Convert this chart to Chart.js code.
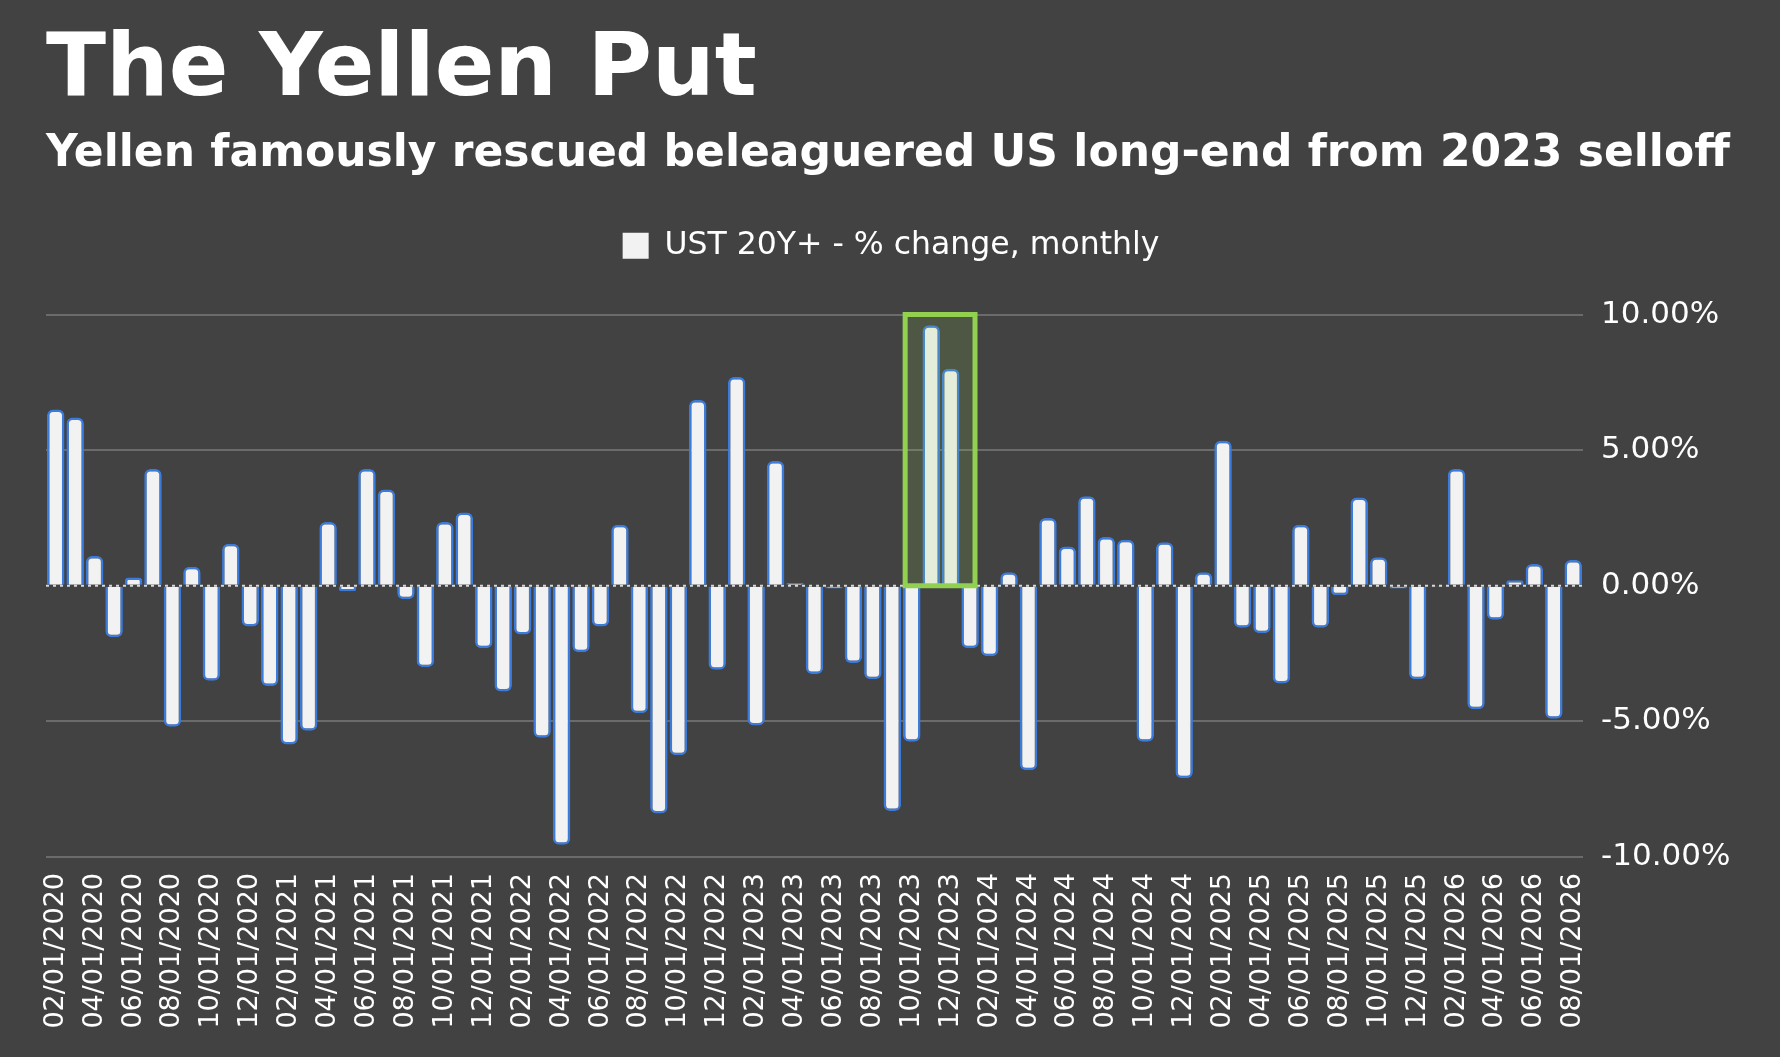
<!DOCTYPE html>
<html>
<head>
<meta charset="utf-8">
<title>The Yellen Put</title>
<script src="https://cdn.jsdelivr.net/npm/chart.js@4.4.1/dist/chart.umd.min.js"></script>
<style>
	html, body { margin: 0; padding: 0; background: #424242; }
	#wrap { position: relative; width: 1780px; height: 1057px; }
</style>
</head>
<body>
<div id="wrap"><canvas id="yellenChart"></canvas></div>
<script>
// monthly labels, 02/2020 .. 08/2026
const months = [
	'02/01/2020', '03/01/2020', '04/01/2020', '05/01/2020', '06/01/2020', '07/01/2020',
	'08/01/2020', '09/01/2020', '10/01/2020', '11/01/2020', '12/01/2020',
	'01/01/2021', '02/01/2021', '03/01/2021', '04/01/2021', '05/01/2021', '06/01/2021',
	'07/01/2021', '08/01/2021', '09/01/2021', '10/01/2021', '11/01/2021', '12/01/2021',
	'01/01/2022', '02/01/2022', '03/01/2022', '04/01/2022', '05/01/2022', '06/01/2022',
	'07/01/2022', '08/01/2022', '09/01/2022', '10/01/2022', '11/01/2022', '12/01/2022',
	'01/01/2023', '02/01/2023', '03/01/2023', '04/01/2023', '05/01/2023', '06/01/2023',
	'07/01/2023', '08/01/2023', '09/01/2023', '10/01/2023', '11/01/2023', '12/01/2023',
	'01/01/2024', '02/01/2024', '03/01/2024', '04/01/2024', '05/01/2024', '06/01/2024',
	'07/01/2024', '08/01/2024', '09/01/2024', '10/01/2024', '11/01/2024', '12/01/2024',
	'01/01/2025', '02/01/2025', '03/01/2025', '04/01/2025', '05/01/2025', '06/01/2025',
	'07/01/2025', '08/01/2025', '09/01/2025', '10/01/2025', '11/01/2025', '12/01/2025',
	'01/01/2026', '02/01/2026', '03/01/2026', '04/01/2026', '05/01/2026', '06/01/2026',
	'07/01/2026', '08/01/2026'
];

// UST 20Y+ monthly % change
const ustChange = [
	6.5, 6.2, 1.1, -1.9, 0.3, 4.3, -5.2, 0.7, -3.5, 1.55, -1.5,
	-3.7, -5.85, -5.35, 2.35, -0.2, 4.3, 3.55, -0.5, -3.0, 2.35, 2.7, -2.3,
	-3.9, -1.8, -5.6, -9.55, -2.45, -1.5, 2.25, -4.7, -8.4, -6.25, 6.85, -3.1,
	7.7, -5.15, 4.6, 0.1, -3.25, -0.1, -2.85, -3.45, -8.3, -5.75, 9.6, 8.0,
	-2.3, -2.6, 0.5, -6.8, 2.5, 1.45, 3.3, 1.8, 1.7, -5.75, 1.6, -7.1,
	0.5, 5.35, -1.55, -1.75, -3.6, 2.25, -1.55, -0.35, 3.25, 1.05, -0.1, -3.45,
	-0.05, 4.3, -4.55, -1.25, 0.2, 0.8, -4.9, 0.95
];

const yTicks = [-10, -5, 0, 5, 10];

// highlighted window (category index units), Nov-Dec 2023
const boxFrom = 43.66;
const boxTo = 47.25;
const boxTop = 10;

const FONT = "'DejaVu Sans', Verdana, sans-serif";

// empty layout box between legend and plot area
const legendGap = {
	id: 'legendGap',
	beforeInit(chart) {
		Chart.layouts.addBox(chart, {
			position: 'top',
			weight: 1,
			fullSize: true,
			options: {},
			isHorizontal() { return true; },
			update(maxWidth) {
				this.width = maxWidth;
				this.height = 43;
			},
			draw() {}
		});
	}
};

// dashed zero line under the bars
const zeroLine = {
	id: 'zeroLine',
	beforeDatasetsDraw(chart) {
		const {ctx, chartArea, scales} = chart;
		const y = scales.y.getPixelForValue(0);
		ctx.save();
		ctx.strokeStyle = '#d8d8d8';
		ctx.lineWidth = 2;
		ctx.setLineDash([3, 4]);
		ctx.beginPath();
		ctx.moveTo(chartArea.left, y);
		ctx.lineTo(chartArea.right, y);
		ctx.stroke();
		ctx.restore();
	}
};

// green highlight box
const highlight = {
	id: 'highlight',
	afterDatasetsDraw(chart) {
		const {ctx, scales} = chart;
		const x0 = scales.x.getPixelForValue(0);
		const step = scales.x.getPixelForValue(1) - x0;
		const left = x0 + boxFrom * step;
		const right = x0 + boxTo * step;
		const top = scales.y.getPixelForValue(boxTop);
		const bottom = scales.y.getPixelForValue(0);
		ctx.save();
		ctx.fillStyle = 'rgba(146, 208, 80, 0.15)';
		ctx.fillRect(left, top, right - left, bottom - top);
		ctx.strokeStyle = '#92d050';
		ctx.lineWidth = 5;
		ctx.strokeRect(left, top, right - left, bottom - top);
		ctx.restore();
	}
};

document.addEventListener('DOMContentLoaded', function() {
	initChart();
});

function initChart() {
	const ctx = document.getElementById('yellenChart').getContext('2d');
	new Chart(ctx, {
		type: 'bar',
		data: {
			labels: months,
			datasets: [{
				label: 'UST 20Y+ - % change, monthly',
				data: ustChange,
				backgroundColor: '#f2f2f2',
				borderColor: '#3b7bdc',
				borderWidth: 2.5,
				borderRadius: 6,
				categoryPercentage: 1,
				barPercentage: 0.9
			}]
		},
		options: {
			responsive: true,
			maintainAspectRatio: false,
			animation: false,
			datasets: {
				bar: { categoryPercentage: 1, barPercentage: 0.9 }
			},
			layout: {
				padding: { left: 46, right: 44, top: 0, bottom: 0 }
			},
			scales: {
				x: {
					grid: { display: false },
					border: { display: false },
					ticks: {
						autoSkip: false,
						maxRotation: 90,
						minRotation: 90,
						padding: 8,
						color: '#ffffff',
						font: { family: FONT, size: 27 },
						callback: function(value, index) {
							return index % 2 === 0 ? months[index] : '';
						}
					},
					afterFit: function(scale) { scale.height = 200; }
				},
				y: {
					position: 'right',
					min: -10,
					max: 10,
					afterBuildTicks: function(scale) {
						scale.ticks = yTicks.map(v => ({ value: v }));
					},
					grid: {
						color: c => c.tick && c.tick.value === 0 ? 'rgba(0,0,0,0)' : '#6b6b6b',
						lineWidth: 2,
						drawTicks: false
					},
					border: { display: false },
					ticks: {
						padding: 18,
						color: '#ffffff',
						font: { family: FONT, size: 31 },
						callback: function(value) {
							return value.toFixed(2) + '%';
						}
					},
					afterFit: function(scale) { scale.width = 153; }
				}
			},
			plugins: {
				title: {
					display: true,
					text: 'The Yellen Put',
					align: 'start',
					color: '#ffffff',
					font: { family: FONT, size: 88, weight: 'bold', lineHeight: 1 },
					padding: { top: 28, bottom: 17 }
				},
				subtitle: {
					display: true,
					text: 'Yellen famously rescued beleaguered US long-end from 2023 selloff',
					align: 'start',
					color: '#ffffff',
					font: { family: FONT, size: 44, weight: 'bold', lineHeight: 1 },
					padding: { top: 0, bottom: 33 }
				},
				legend: {
					position: 'top',
					labels: {
						color: '#ffffff',
						font: { family: FONT, size: 31.5 },
						boxWidth: 26,
						boxHeight: 26,
						padding: 20,
						generateLabels: function(chart) {
							return Chart.defaults.plugins.legend.labels.generateLabels(chart).map(function(item) {
								item.strokeStyle = '#f2f2f2';
								item.lineWidth = 0;
								item.fontColor = '#ffffff';
								return item;
							});
						}
					}
				},
				tooltip: { enabled: false }
			}
		},
		plugins: [legendGap, zeroLine, highlight]
	});
}
</script>
</body>
</html>
